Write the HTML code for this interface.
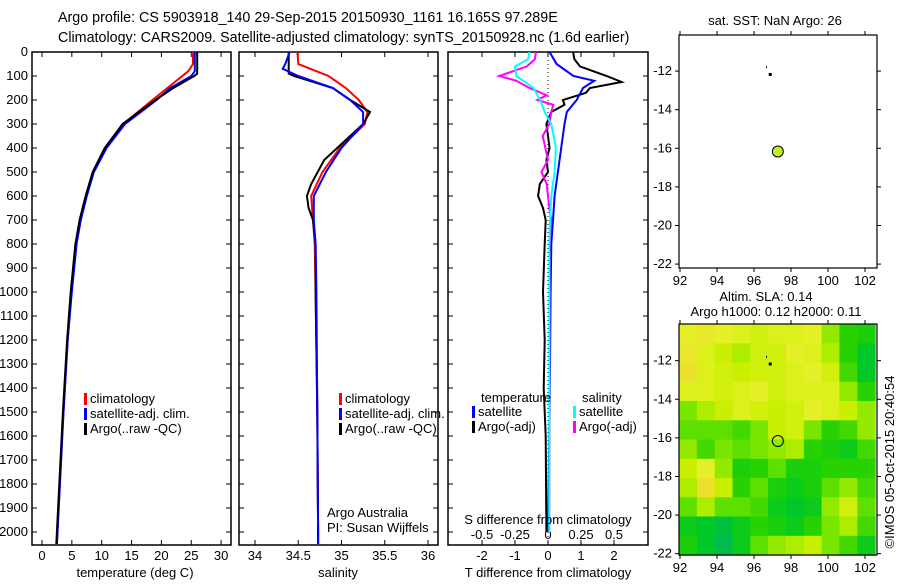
<!DOCTYPE html>
<html><head><meta charset="utf-8"><style>
body{margin:0;background:#fff}
svg text{font-family:"Liberation Sans",sans-serif;font-size:13px;fill:#000}
</style></head><body>
<svg id="s" width="900" height="580">
<text x="58" y="22" style="font-size:14.3px">Argo profile: CS 5903918_140 29-Sep-2015 20150930_1161 16.165S 97.289E</text>
<text x="58" y="42" style="font-size:14.3px">Climatology: CARS2009. Satellite-adjusted climatology: synTS_20150928.nc (1.6d earlier)</text>
</svg>
<script>
const depthTicks=[0,100,200,300,400,500,600,700,800,900,1000,1100,1200,1300,1400,1500,1600,1700,1800,1900,2000];
const tempTicks=[0,5,10,15,20,25,30];
const salTicks=[34,34.5,35,35.5,36];
const salTickLabels=['34','34.5','35','35.5','36'];
const tdTicks=[-2,-1,0,1,2];
const sdTicks=[-0.5,-0.25,0,0.25,0.5];
const sdTickLabels=['-0.5','-0.25','0','0.25','0.5'];
const lonTicks=[92,94,96,98,100,102];
const latTicks=[-12,-14,-16,-18,-20,-22];
const tempArgoD=[0,90,100,150,200,300,400,500,600,700,800,1000,1200,1500,2000,2050];
const tempArgo=[26,26,25.5,22,19,13.5,10.5,8.5,7.3,6.3,5.6,4.8,4.2,3.5,2.5,2.4];
const tempClimD=[0,50,80,150,200,300,400,500,600,700,800,1000,1200,1500,2000,2050];
const tempClim=[25.3,25.3,24.5,21,18.5,13.6,10.6,8.6,7.4,6.4,5.7,4.9,4.3,3.6,2.6,2.5];
const tempSatD=[0,80,100,150,200,300,400,500,600,700,800,1000,1200,1500,2000,2050];
const tempSat=[25.6,25.6,25,21.5,19.2,13.9,10.8,8.7,7.5,6.5,5.8,5.0,4.3,3.6,2.6,2.5];
const salArgoD=[0,90,100,150,200,250,300,400,450,550,600,650,700,800,1000,1500,2000,2050];
const salArgo=[34.39,34.39,34.45,34.9,35.1,35.33,35.25,34.95,34.8,34.65,34.6,34.62,34.67,34.7,34.7,34.72,34.73,34.73];
const salClimD=[0,50,100,150,200,250,300,400,500,600,700,800,1000,1500,2000,2050];
const salClim=[34.49,34.5,34.85,35.05,35.2,35.3,35.27,34.98,34.78,34.65,34.67,34.69,34.7,34.72,34.73,34.73];
const salSatD=[0,50,70,100,150,200,250,300,400,500,600,700,800,1000,1500,2000,2050];
const salSat=[34.4,34.35,34.32,34.5,34.9,35.1,35.25,35.25,35.0,34.82,34.68,34.68,34.7,34.71,34.72,34.73,34.73];
const dTSatD=[0,50,100,120,150,200,250,300,400,500,600,700,800,1000,1500,2000];
const dTSat=[0.05,0.26,0.77,1.4,1.06,0.87,0.57,0.5,0.4,0.3,0.2,0.15,0.1,0.08,0.05,0.0];
const dTArgoD=[0,30,60,100,125,150,170,200,220,250,300,350,400,450,500,550,600,650,700,800,1000,1200,1400,1600,2000];
const dTArgo=[0.76,0.8,0.97,1.78,2.23,1.27,1.15,0.45,0.5,0.1,-0.05,0,0.05,-0.05,0,-0.25,-0.3,-0.15,-0.07,-0.1,-0.15,-0.1,-0.13,-0.07,-0.05];
const dSSatD=[0,30,60,100,130,150,200,250,300,400,500,600,700,800,1000,2000];
const dSSat=[-0.14,-0.15,-0.25,-0.24,-0.16,-0.11,-0.06,-0.025,0.025,0.06,0.05,0.025,0.015,0.01,0.01,0.01];
const dSArgoD=[0,30,60,100,120,150,180,200,220,250,300,350,400,450,500,550,600,650,700,800,1000,2000];
const dSArgo=[-0.09,-0.1,-0.16,-0.37,-0.24,-0.14,-0.01,-0.08,0.04,0.025,0.01,-0.04,-0.02,0,-0.05,-0.01,0,0.01,0.025,0.012,0.012,0.01];
const argoLon=97.289, argoLat=-16.165;
const slaGrid=[
[0.75,0.8,0.75,0.7,0.65,0.7,0.7,0.75,0.5,0.3,0.25],
[0.8,0.7,0.6,0.55,0.65,0.65,0.75,0.7,0.55,0.3,0.15],
[0.85,0.7,0.65,0.6,0.65,0.65,0.7,0.75,0.65,0.35,0.15],
[0.7,0.7,0.65,0.7,0.75,0.65,0.7,0.7,0.7,0.5,0.3],
[0.45,0.55,0.6,0.7,0.65,0.6,0.65,0.75,0.7,0.6,0.5],
[0.4,0.4,0.4,0.35,0.45,0.6,0.65,0.45,0.3,0.35,0.5],
[0.5,0.35,0.45,0.4,0.45,0.5,0.55,0.3,0.25,0.2,0.35],
[0.6,0.75,0.5,0.25,0.3,0.4,0.25,0.25,0.3,0.3,0.3],
[0.55,0.85,0.6,0.3,0.4,0.25,0.2,0.25,0.4,0.5,0.35],
[0.4,0.55,0.4,0.4,0.35,0.2,0.15,0.2,0.5,0.65,0.4],
[0.2,0.15,0.1,0.2,0.3,0.25,0.2,0.3,0.45,0.55,0.35],
[0.25,0.15,0.05,0.2,0.4,0.5,0.55,0.6,0.45,0.35,0.2]];

const S=document.getElementById('s'),NS='http://www.w3.org/2000/svg';
function mk(t,a,txt){const e=document.createElementNS(NS,t);for(const k in a)e.setAttribute(k,a[k]);if(txt!==undefined)e.textContent=txt;S.appendChild(e);return e;}
const yD=d=>52+d*0.24;
const panels=[{x0:32,x1:231},{x0:239,x1:438},{x0:448,x1:648}];
const xT=t=>42+t*5.97, xS=s=>255+(s-34)*86.5, xDT=v=>548+v*33, xDS=v=>548+v*132;
panels.forEach((p,i)=>{
  const r=mk('rect',{x:p.x0,y:52,width:p.x1-p.x0,height:493,fill:'none',stroke:'#000','stroke-width':1.5});
  
  
  depthTicks.forEach(d=>{
    mk('line',{x1:p.x0,x2:p.x0+5,y1:yD(d),y2:yD(d),stroke:'#000'});
    mk('line',{x1:p.x1-5,x2:p.x1,y1:yD(d),y2:yD(d),stroke:'#000'});
  });
});
depthTicks.forEach(d=>{const t=mk('text',{x:28,y:yD(d)+4,'text-anchor':'end'},String(d));
  
  });
function xticks(arr,labels,fx,p,ly){arr.forEach((v,i)=>{const x=fx(v);
  mk('line',{x1:x,x2:x,y1:545,y2:540,stroke:'#000'});mk('line',{x1:x,x2:x,y1:52,y2:57,stroke:'#000'});
  const t=mk('text',{x:x,y:ly,'text-anchor':'middle'},labels[i]);
  
  });}
xticks(tempTicks,tempTicks.map(String),xT,0,560);
xticks(salTicks,salTickLabels,xS,1,560);
xticks(tdTicks,tdTicks.map(String),xDT,2,560);
sdTicks.forEach((v,i)=>{const t=mk('text',{x:xDS(v),y:539,'text-anchor':'middle'},sdTickLabels[i]);
  
  });
function line(ds,vs,fx,col,name,w){const pts=ds.map((d,i)=>fx(vs[i]).toFixed(1)+','+yD(d).toFixed(1)).join(' ');
  const e=mk('polyline',{points:pts,fill:'none',stroke:col,'stroke-width':w||2});
  
  }
mk('line',{x1:548,x2:548,y1:52,y2:545,stroke:'#000','stroke-dasharray':'1,3'});
line(tempClimD,tempClim,xT,'#f00','temp-climatology');
line(tempSatD,tempSat,xT,'#00f','temp-satellite');
line(tempArgoD,tempArgo,xT,'#000','temp-argo');
line(salClimD,salClim,xS,'#f00','sal-climatology');
line(salArgoD,salArgo,xS,'#000','sal-argo');
line(salSatD,salSat,xS,'#00f','sal-satellite');
line(dTArgoD,dTArgo,xDT,'#000','tdiff-argo');
line(dTSatD,dTSat,xDT,'#00f','tdiff-satellite');
line(dSArgoD,dSArgo,xDS,'#f0f','sdiff-argo');
line(dSSatD,dSSat,xDS,'#0ff','sdiff-satellite');
function leg(x,y,col,txt,name){mk('rect',{x:x,y:y-10,width:3,height:12,fill:col});
  const t=mk('text',{x:x+6,y:y},txt);
  
  }
leg(84,403,'#f00','climatology','legend-climatology');
leg(84,418,'#00f','satellite-adj. clim.','legend-satellite');
leg(84,433,'#000','Argo(..raw -QC)','legend-argo');
leg(339,403,'#f00','climatology','legend-climatology-2');
leg(339,418,'#00f','satellite-adj. clim.','legend-satellite-2');
leg(339,433,'#000','Argo(..raw -QC)','legend-argo-2');
mk('text',{x:481,y:402},'temperature');mk('text',{x:582,y:402},'salinity');
leg(472,416,'#00f','satellite','legend-t-satellite');
leg(472,431,'#000','Argo(-adj)','legend-t-argo');
leg(573,416,'#0ff','satellite','legend-s-satellite');
leg(573,431,'#f0f','Argo(-adj)','legend-s-argo');
mk('text',{x:327,y:517},'Argo Australia');mk('text',{x:327,y:532},'PI: Susan Wijffels');
mk('text',{x:548,y:524,'text-anchor':'middle'},'S difference from climatology');
mk('text',{x:135,y:577,'text-anchor':'middle'},'temperature (deg C)');
mk('text',{x:338,y:577,'text-anchor':'middle'},'salinity');
mk('text',{x:548,y:577,'text-anchor':'middle'},'T difference from climatology');
function map(y0,y1,latTop,name){const lx=v=>680+(v-92)*18.5, ly=v=>y0+(latTop-v)*19.3;
  return {lx,ly,draw(){const r=mk('rect',{x:679,y:y0,width:198,height:y1-y0,fill:'none',stroke:'#000','stroke-width':1.2});
    
    
    lonTicks.forEach(v=>{mk('line',{x1:lx(v),x2:lx(v),y1:y1,y2:y1+4,stroke:'#000'});mk('line',{x1:lx(v),x2:lx(v),y1:y0-4,y2:y0,stroke:'#000'});
      mk('text',{x:lx(v),y:y1+17,'text-anchor':'middle'},String(v));});
    latTicks.forEach(v=>{mk('line',{x1:675,x2:679,y1:ly(v),y2:ly(v),stroke:'#000'});mk('line',{x1:877,x2:881,y1:ly(v),y2:ly(v),stroke:'#000'});
      mk('text',{x:672,y:ly(v)+4,'text-anchor':'end'},String(v));});}};}
const m1=map(35,268,-10.13,'sst-map'), m2=map(324,555,-10.1,'sla-map');
const cw=(102.6-92)/11*18.5, ch=(555-324)/12;
const cols=[[0,[0,180,100]],[0.15,[0,200,40]],[0.3,[40,210,0]],[0.45,[120,230,0]],[0.6,[200,240,0]],[0.75,[230,240,40]],[1,[245,200,50]]];
function col(v){for(let i=1;i<cols.length;i++){if(v<=cols[i][0]){const a=cols[i-1],b=cols[i],f=(v-a[0])/(b[0]-a[0]);return 'rgb('+a[1].map((c,k)=>Math.round(c+(b[1][k]-c)*f)).join(',')+')';}}return 'rgb(245,200,50)';}
slaGrid.forEach((row,r)=>row.forEach((v,c)=>{const e=mk('rect',{x:(679+c*cw).toFixed(1),y:(324+r*ch).toFixed(1),width:(cw+0.6).toFixed(1),height:(ch+0.6).toFixed(1),fill:col(v)});
  
  }));
m1.draw();m2.draw();
[m1,m2].forEach((m,i)=>{mk('rect',{x:m.lx(96.85)-1,y:m.ly(-12.2)-2,width:3,height:3,fill:'#000'});mk('rect',{x:m.lx(96.65),y:m.ly(-11.8)-1,width:1,height:2,fill:'#000'});
  const c=mk('circle',{cx:m.lx(argoLon),cy:m.ly(argoLat),r:5.5,fill:i?'none':'#c0f020',stroke:'#000','stroke-width':1});
  
  });
mk('text',{x:775,y:25,'text-anchor':'middle'},'sat. SST: NaN Argo: 26');
mk('text',{x:766,y:301,'text-anchor':'middle'},'Altim. SLA: 0.14');
mk('text',{x:776,y:316,'text-anchor':'middle'},'Argo h1000: 0.12 h2000: 0.11');
mk('text',{x:0,y:0,transform:'translate(894,462) rotate(-90)','text-anchor':'middle'},'©IMOS 05-Oct-2015 20:40:54');
</script>
</body></html>
